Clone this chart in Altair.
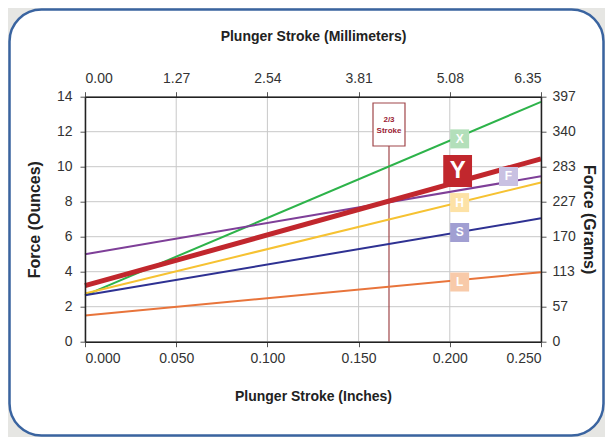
import altair as alt
import pandas as pd

# ---- data ----
series = ["X", "Y", "F", "H", "S", "L"]
force_at_start = [2.65, 3.2, 5.0, 2.75, 2.65, 1.5]      # ounces at 0.000 in
force_at_end = [13.7, 10.45, 9.45, 9.1, 7.05, 3.97]     # ounces at 0.250 in
stroke_range = [0.0, 0.25]
line_colors = ["#2db34a", "#c1272d", "#7e3f98", "#f6c232", "#2e3192", "#e8743b"]
label_colors = ["#b3dfba", "#c1272d", "#c9c1e2", "#fde2a6", "#a19fd2", "#f8caa9"]
label_x = [0.2054, 0.2043, 0.2322, 0.2054, 0.2054, 0.2054]
label_y = [11.59, 9.75, 9.44, 7.95, 6.24, 3.41]
x_ticks = [0.0, 0.05, 0.10, 0.15, 0.20, 0.25]
y_ticks = [0, 2, 4, 6, 8, 10, 12, 14]
two_thirds_stroke = 0.25 * 2 / 3
marker_top = 11.18
marker_box_y = 12.41

FONT = "Liberation Sans"

rows = []
for s, a, b in zip(series, force_at_start, force_at_end):
    rows.append({"series": s, "x": stroke_range[0], "y": a})
    rows.append({"series": s, "x": stroke_range[1], "y": b})
lines_df = pd.DataFrame(rows)
labels_df = pd.DataFrame({"series": series, "x": label_x, "y": label_y, "fill": label_colors})

xs = alt.Scale(domain=[0, 0.25], nice=False, zero=False)
ys = alt.Scale(domain=[0, 14], nice=False, zero=False)

common_axis = dict(
    grid=False, zindex=1, labelFont=FONT, titleFont=FONT, labelFontSize=14,
    labelColor="#333333", titleColor="#222222", titleFontWeight="bold",
    domainColor="#222222", domainWidth=1.5, tickColor="#555555", tickSize=5,
)

xaxis = alt.Axis(values=x_ticks, format=".3f", title="Plunger Stroke (Inches)",
                 titleFontSize=14, labelPadding=5, titlePadding=24, **common_axis)
yaxis = alt.Axis(values=y_ticks, format="d", title="Force (Ounces)",
                 titleFontSize=16, labelPadding=8, titlePadding=14, **common_axis)

xenc = alt.X("x:Q", scale=xs, axis=xaxis)
yenc = alt.Y("y:Q", scale=ys, axis=yaxis)

color_scale = alt.Scale(domain=series, range=line_colors)

frame = alt.Chart(pd.DataFrame({"k": [0]})).mark_rect(
    fill="white", stroke="#3a64a0", strokeWidth=2.5, cornerRadius=32
).encode(
    x=alt.value(-75.5), x2=alt.value(518.5), y=alt.value(-87.2), y2=alt.value(338.8)
)

vgrid = alt.Chart(pd.DataFrame({"x": x_ticks})).mark_rule(
    color="#c8c8c8", strokeWidth=1
).encode(x=xenc)
hgrid = alt.Chart(pd.DataFrame({"y": y_ticks})).mark_rule(
    color="#c8c8c8", strokeWidth=1
).encode(y=yenc)

marker_df = pd.DataFrame({"x": [two_thirds_stroke], "y": [0], "y2": [marker_top],
                          "yb": [marker_box_y], "t": [["2/3", "Stroke"]]})
marker_rule = alt.Chart(marker_df).mark_rule(color="#a0464a", strokeWidth=1.2).encode(
    x=xenc, y=yenc, y2="y2:Q"
)
marker_box = alt.Chart(marker_df).mark_point(
    shape="M-0.744,-1L0.744,-1L0.744,1L-0.744,1Z", size=1849, filled=True,
    fill="white", stroke="#a0464a", strokeWidth=1.2, opacity=1
).encode(x=xenc, y=alt.Y("yb:Q", scale=ys, axis=yaxis))
marker_text = alt.Chart(marker_df).mark_text(
    font=FONT, fontSize=8, fontWeight="bold", color="#9b2335", lineHeight=11, dy=-5
).encode(x=xenc, y=alt.Y("yb:Q", scale=ys, axis=yaxis), text="t")

other_lines = alt.Chart(lines_df[lines_df.series != "Y"]).mark_line(strokeWidth=2).encode(
    x=xenc, y=yenc, color=alt.Color("series:N", scale=color_scale, legend=None),
    detail="series:N"
)
red_line = alt.Chart(lines_df[lines_df.series == "Y"]).mark_line(strokeWidth=5).encode(
    x=xenc, y=yenc, color=alt.Color("series:N", scale=color_scale, legend=None)
)

small = labels_df[labels_df.series != "Y"]
big = labels_df[labels_df.series == "Y"]
small_boxes = alt.Chart(small).mark_square(size=361, opacity=1).encode(
    x=xenc, y=yenc, fill=alt.Fill("fill:N", scale=None)
)
small_text = alt.Chart(small).mark_text(
    font=FONT, fontSize=12, fontWeight="bold", color="white"
).encode(x=xenc, y=yenc, text="series:N")
big_box = alt.Chart(big).mark_point(
    shape="M-0.9,-1L0.9,-1L0.9,1L-0.9,1Z", size=1024, filled=True, opacity=1
).encode(x=xenc, y=yenc, fill=alt.Fill("fill:N", scale=None))
big_text = alt.Chart(big).mark_text(
    font=FONT, fontSize=24, fontWeight="bold", color="white", baseline="middle"
).encode(x=xenc, y=yenc, text="series:N")

inner = alt.layer(
    frame, vgrid, hgrid, marker_rule, other_lines, red_line, marker_box, marker_text,
    small_boxes, small_text, big_box, big_text
)

top_axis = alt.Axis(values=x_ticks, orient="top", title="Plunger Stroke (Millimeters)",
                    labelExpr="format(datum.value * 25.4, '.2f')",
                    titleFontSize=14, labelPadding=6, titlePadding=28, **common_axis)
right_axis = alt.Axis(values=y_ticks, orient="right", title="Force (Grams)",
                      labelExpr="format(datum.value * 28.3495, '.0f')",
                      titleFontSize=16, labelPadding=6, titlePadding=5, **common_axis)

secondary = alt.Chart(lines_df).mark_point(opacity=0).encode(
    x=alt.X("x:Q", scale=xs, axis=top_axis),
    y=alt.Y("y:Q", scale=ys, axis=right_axis),
)

chart = alt.layer(inner, secondary).resolve_scale(
    x="independent", y="independent"
).properties(
    width=456, height=245,
    autosize=alt.AutoSizeParams(type="none"),
    padding={"left": 77, "top": 88.7, "right": 64, "bottom": 95},
    background="#e6e6e3",
).configure_view(stroke="#222222", strokeWidth=1.5)

chart.save("out.html", embed_options={"renderer": "svg", "actions": False})
